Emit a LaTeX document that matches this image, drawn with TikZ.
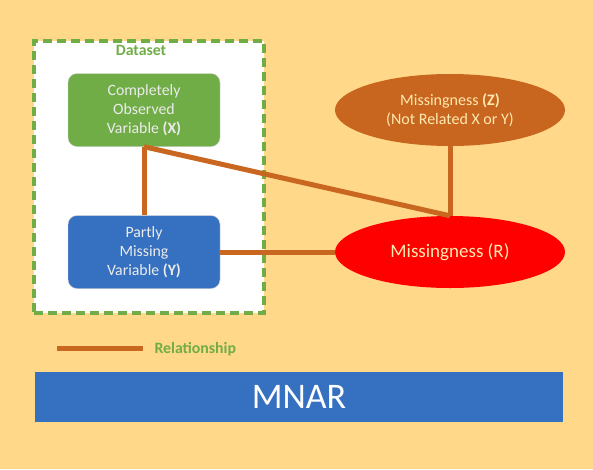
\documentclass[tikz,border=0pt]{standalone}
\usepackage{fontspec}
\setmainfont{Carlito}
\usetikzlibrary{shapes.geometric}

\definecolor{bgcol}{HTML}{FFD889}
\definecolor{boxgreen}{HTML}{70AD47}
\definecolor{boxblue}{HTML}{3670C0}
\definecolor{zcol}{HTML}{C8651E}
\definecolor{linkcol}{HTML}{C9661F}
\definecolor{creamtext}{HTML}{FFE9B0}

\tikzstyle{varbox}=[rounded corners=9pt,minimum width=152pt,minimum height=73pt,align=center,text=white!92!black,draw=black!18,font=\fontsize{15.8}{18.8}\selectfont]
\tikzstyle{missbox}=[ellipse,minimum width=230pt,minimum height=72pt,inner sep=0pt,align=center,text=creamtext]
\tikzstyle{link}=[line width=5pt,linkcol]

\begin{document}
\begin{tikzpicture}[x=1pt,y=-1pt]
    \useasboundingbox (0,0) rectangle (593,469);
    \fill[bgcol] (0,0) rectangle (593,469);

    \node (dataset)[draw=boxgreen,fill=white,line width=3.5pt,dash pattern=on 9pt off 5pt,minimum width=230pt,minimum height=272pt] at (149,177) {};
    \node (datasetlabel)[text=boxgreen,font=\fontsize{15.8}{17}\selectfont\bfseries] at (141,50) {Dataset};

    \node (x)[varbox,fill=boxgreen] at (144,110) {Completely\\Observed\\Variable \textbf{(X)}};
    \node (y)[varbox,fill=boxblue] at (144,252) {Partly\\Missing\\Variable \textbf{(Y)}};

    \node (z)[missbox,fill=zcol,font=\fontsize{16}{19}\selectfont] at (450,110) {Missingness \textbf{(Z)}\\(Not Related X or Y)};
    \node (r)[missbox,fill=red,font=\fontsize{19}{21}\selectfont] at (450,252) {Missingness (R)};

    \draw[link] (x) -- (y);
    \draw[link] (x.south) -- (r.north);
    \draw[link] (z) -- (r);
    \draw[link] (y) -- (r);

    \coordinate (legstart) at (57,348);
    \coordinate (legend) at (143,348);
    \draw[link] (legstart) -- (legend);
    \node (legtext)[anchor=west,text=boxgreen,font=\fontsize{15.8}{17}\selectfont\bfseries] at (151,349) {Relationship};

    \node (mnar)[fill=boxblue,minimum width=528pt,minimum height=50pt,text=white,font=\fontsize{36}{38}\selectfont] at (299,397) {MNAR};
\end{tikzpicture}
\end{document}
